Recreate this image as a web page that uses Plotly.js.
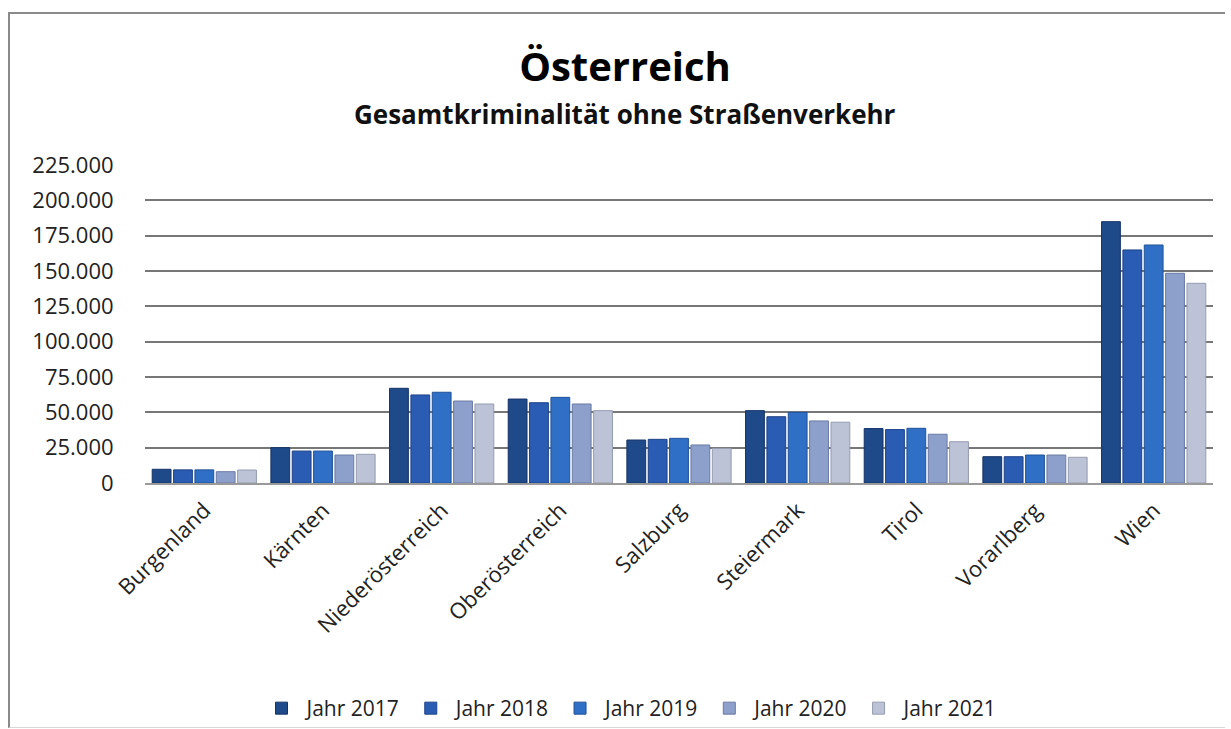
<!DOCTYPE html>
<html>
<head>
<meta charset="utf-8">
<script src="https://cdn.plot.ly/plotly-3.0.1.min.js"></script>
<style>
  html, body { margin: 0; padding: 0; background: #fff; overflow: hidden; width: 1231px; height: 729px; }
  #wrap { position: relative; width: 1231px; height: 729px; overflow: hidden; }
  #chart { position: absolute; left: 0; top: 0; width: 1231px; height: 729px; }
  #frame { position: absolute; left: 8px; top: 12px; width: 1215px; height: 713px;
           border-left: 2px solid #8a8a8a; border-top: 2px solid #8a8a8a; border-bottom: 1px solid #d8d8d8;
           pointer-events: none; }
</style>
</head>
<body>
<div id="wrap">
  <div id="chart"></div>
  <div id="frame"></div>
</div>
<script>
const categories = ["Burgenland", "Kärnten", "Niederösterreich", "Oberösterreich", "Salzburg",
                    "Steiermark", "Tirol", "Vorarlberg", "Wien"];
const seriesNames = ["Jahr 2017", "Jahr 2018", "Jahr 2019", "Jahr 2020", "Jahr 2021"];
const y2017 = [9700, 25000, 67000, 59400, 30400, 51200, 38500, 18600, 184900];
const y2018 = [9300, 22600, 62300, 56800, 30900, 46900, 37800, 18600, 164900];
const y2019 = [9300, 22600, 64200, 60600, 31600, 50000, 38700, 19800, 168400];
const y2020 = [8000, 19800, 58000, 55900, 26900, 43900, 34500, 19800, 148400];
const y2021 = [9200, 20300, 55900, 51200, 24500, 43000, 29200, 18200, 141300];
const tickValues = [0, 25000, 50000, 75000, 100000, 125000, 150000, 175000, 200000, 225000];

const allSeries = [y2017, y2018, y2019, y2020, y2021];
const colors = ["#1f4a8a", "#2b5cb3", "#2f6fc6", "#8d9fcb", "#bcc3d6"];
const lineColors = ["#143266", "#1d4288", "#1f5299", "#6a7aa3", "#959cb0"];

const traces = allSeries.map((vals, i) => ({
  type: "bar",
  name: seriesNames[i],
  x: categories,
  y: vals,
  marker: { color: colors[i], line: { color: lineColors[i], width: 1 } },
  hoverinfo: "x+y+name"
}));

const FONT = "'Open Sans', 'Noto Sans', sans-serif";

const layout = {
  width: 1231,
  height: 729,
  paper_bgcolor: "#ffffff",
  plot_bgcolor: "#ffffff",
  separators: ",.",
  margin: { l: 145, r: 18, t: 165, b: 246, autoexpand: false },
  barmode: "group",
  bargap: 0.1,
  bargroupgap: 0.12,
  font: { family: FONT, color: "#222" },
  title: {
    text: "<b>Österreich</b>",
    font: { size: 40, color: "#000", family: FONT },
    x: 625 / 1231, xanchor: "center",
    y: 1 - 67 / 729, yanchor: "middle",
    xref: "container", yref: "container"
  },
  annotations: [{
    text: "<b>Gesamtkriminalität ohne Straßenverkehr</b>",
    xref: "paper", yref: "paper",
    x: (625 - 145) / 1068, xanchor: "center",
    y: (483 - 114) / 318, yanchor: "middle",
    showarrow: false,
    font: { size: 26, color: "#111", family: FONT }
  }],
  xaxis: {
    type: "category",
    tickangle: -45,
    tickfont: { size: 22, color: "#222", family: FONT },
    showgrid: false,
    showline: true,
    linecolor: "#9a9a9a",
    linewidth: 1.5,
    ticks: "outside",
    ticklen: 4,
    tickcolor: "rgba(0,0,0,0)",
    automargin: false
  },
  yaxis: {
    range: [0, 225000],
    tickvals: tickValues,
    tickformat: ",d",
    tickfont: { size: 22, color: "#222", family: FONT },
    showgrid: true,
    gridcolor: "#777777",
    gridwidth: 1.6,
    zeroline: false,
    showline: false,
    ticks: "outside",
    ticklen: 26,
    tickcolor: "rgba(0,0,0,0)",
    automargin: false
  },
  showlegend: true,
  legend: {
    orientation: "h",
    x: 630 / 1231, xanchor: "center", xref: "container",
    y: -0.009, yanchor: "bottom", yref: "container",
    font: { size: 21, color: "#222", family: FONT },
    itemwidth: 40,
    traceorder: "normal"
  }
};

Plotly.newPlot("chart", traces, layout, { displayModeBar: false, responsive: false });
</script>
</body>
</html>
